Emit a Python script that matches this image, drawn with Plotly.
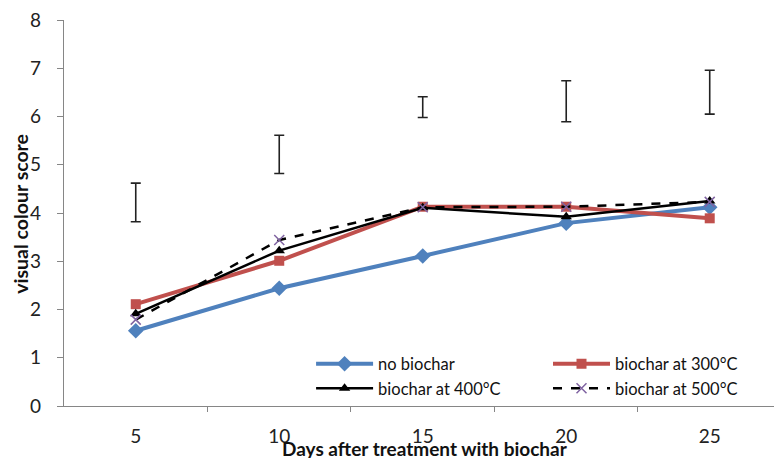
import plotly.graph_objects as go

days = [5, 10, 15, 20, 25]
no_biochar = [1.56, 2.44, 3.11, 3.79, 4.12]
biochar_300 = [2.11, 3.01, 4.13, 4.13, 3.89]
biochar_400 = [1.91, 3.22, 4.11, 3.92, 4.25]
biochar_500 = [1.79, 3.44, 4.12, 4.13, 4.23]
err_low = [3.82, 4.82, 5.98, 5.89, 6.05]
err_high = [4.62, 5.61, 6.41, 6.74, 6.96]

err_mid = [(a + b) / 2 for a, b in zip(err_low, err_high)]
err_half = [(b - a) / 2 for a, b in zip(err_low, err_high)]

FONT = "Lato, 'Liberation Sans', sans-serif"
AXIS = "#868686"

fig = go.Figure()
fig.add_trace(go.Scatter(
    x=days, y=err_mid, mode="markers", showlegend=False, hoverinfo="skip",
    marker=dict(size=1, color="rgba(0,0,0,0)"),
    error_y=dict(type="data", array=err_half, visible=True, color="#222222",
                 thickness=1.6, width=5)))
fig.add_trace(go.Scatter(
    x=days, y=no_biochar, name="no biochar", mode="lines+markers",
    legend="legend",
    line=dict(color="#4F81BD", width=4),
    marker=dict(symbol="diamond", size=12, color="#4F81BD")))
fig.add_trace(go.Scatter(
    x=days, y=biochar_300, name="biochar at 300°C", mode="lines+markers",
    legend="legend2",
    line=dict(color="#C0504D", width=4),
    marker=dict(symbol="square", size=10, color="#C0504D")))
fig.add_trace(go.Scatter(
    x=days, y=biochar_400, name="biochar at 400°C", mode="lines+markers",
    legend="legend",
    line=dict(color="#000000", width=2.5),
    marker=dict(symbol="triangle-up", size=10, color="#000000")))
fig.add_trace(go.Scatter(
    x=days, y=biochar_500, name="biochar at 500°C", mode="lines+markers",
    legend="legend2",
    line=dict(color="#000000", width=2.5, dash="dash"),
    marker=dict(symbol="x-thin", size=10, color="#8064A2",
                line=dict(color="#8064A2", width=1.5))))

legend_common = dict(
    orientation="v", yanchor="top", xanchor="left", itemwidth=57,
    font=dict(family=FONT, size=16.5, color="#111111"),
    bgcolor="rgba(0,0,0,0)", tracegroupgap=0)

fig.update_layout(
    width=774, height=458,
    margin=dict(l=64, r=0, t=20, b=52),
    paper_bgcolor="white", plot_bgcolor="white",
    font=dict(family=FONT, size=15, color="#222222"),
    legend=dict(x=0.348, y=0.154, **legend_common),
    legend2=dict(x=0.6817, y=0.154, **legend_common),
    xaxis=dict(
        range=[2.5, 27.24], tickmode="array", tickvals=days,
        ticktext=[str(d) for d in days], ticks="", showgrid=False,
        zeroline=False, showline=True, linecolor=AXIS, linewidth=1.3,
        ticklabelstandoff=13, tickfont=dict(size=19), automargin=False,
        minor=dict(tickmode="array", tickvals=[7.5, 12.5, 17.5, 22.5],
                   ticks="outside", ticklen=5, tickcolor=AXIS, tickwidth=1.3,
                   showgrid=False)),
    yaxis=dict(
        range=[0, 8], tickmode="array", tickvals=list(range(0, 9)),
        ticks="outside", ticklen=6, tickcolor=AXIS, tickwidth=1.3,
        showgrid=False, zeroline=False, showline=True, linecolor=AXIS,
        linewidth=1.3, tickfont=dict(size=19), ticklabelstandoff=12,
        automargin=False),
    annotations=[
        dict(text="<b>Days after treatment with biochar</b>", xref="paper",
             yref="paper", x=0.508, y=-0.111, xanchor="center", yanchor="middle",
             showarrow=False, font=dict(family=FONT, size=19, color="#111111")),
        dict(text="<b>visual colour score</b>", xref="paper", yref="paper",
             x=-0.0606, y=0.498, textangle=-90, xanchor="center", yanchor="middle",
             showarrow=False, font=dict(family=FONT, size=19.5, color="#111111")),
    ],
)
fig.write_html("out.html", config={"displayModeBar": False},
               post_script="document.body.style.margin='0';")
